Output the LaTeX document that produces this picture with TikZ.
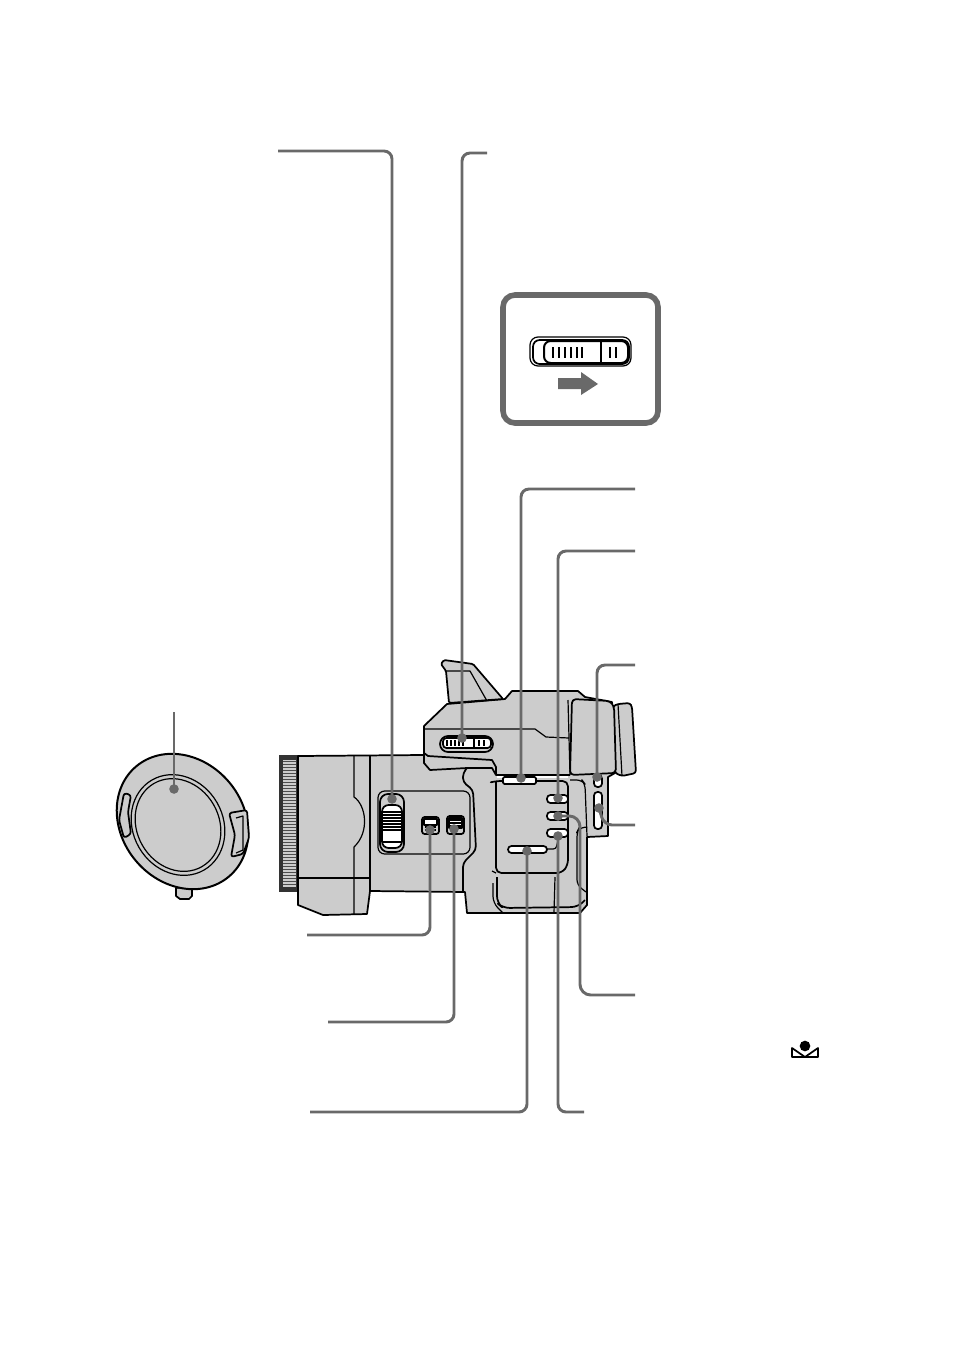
\documentclass[tikz,border=0pt]{standalone}
\usetikzlibrary{arrows.meta,positioning,calc}
\definecolor{bodygrey}{HTML}{CCCCCC}
\definecolor{leadgrey}{HTML}{696969}
\tikzset{
  outline/.style = {draw=black, line width=1.3pt, line join=round},
  shell/.style   = {outline, fill=bodygrey},
  detail/.style  = {draw=black, line width=0.9pt, line join=round},
  pill/.style    = {outline, fill=white, rounded corners=2.6pt},
  leader/.style  = {draw=leadgrey, line width=2.2pt, rounded corners=6pt},
  leaddot/.style = {circle, fill=leadgrey, inner sep=0pt, minimum size=7.2pt},
}
\begin{document}
\begin{tikzpicture}[x=0.75pt,y=-0.75pt]
  \useasboundingbox (0,0) rectangle (954,1345);
  % slide switch inset
  \draw[draw=leadgrey, fill=white, line width=4.2pt, rounded corners=9pt] (503,295) rectangle (658,423);
  \draw[detail, rounded corners=6pt] (530,337) rectangle (631,366);
  \draw[outline, rounded corners=5pt] (533,340) rectangle (629,364);
  \draw[outline, line width=1.5pt, rounded corners=5pt] (544,341) rectangle (628,363);
  \draw[outline] (601,341) -- (601,363);
  \foreach \tx in {553,559,565,571,577,582,610,616} \draw[detail] (\tx,347) -- (\tx,358);
  \fill[leadgrey] (558,378) -- (581,378) -- (581,372) -- (598,384) -- (581,395) -- (581,389) -- (558,389) -- cycle;
  % lens cap
  \draw[shell] (176,888) -- (176,896) -- (180,899) -- (189,899) -- (192,896) -- (192,886) -- cycle;
  \draw[shell, line width=1.5pt] (182.5,821.5) circle [x radius=72, y radius=61, rotate=-50];
  \draw[detail] (178,825) circle [x radius=52, y radius=45, rotate=-60];
  \draw[detail] (178,825) circle [x radius=48, y radius=41, rotate=-60];
  \draw[shell, rounded corners=2pt] (124,793) -- (131,795) -- (128,812) -- (131,834) -- (124,838) -- (119,820) -- cycle;
  \draw[shell, rounded corners=2pt] (229,813) -- (247,810) -- (249,838) -- (243,854) -- (231,857) -- (235,835) -- cycle;
  \draw[detail] (236,818) -- (243,816) -- (243,850) -- (236,853);
  % lens ring
  \fill[black!80] (279,755) rectangle (298,892);
  \fill[bodygrey] (283,760) rectangle (296,887);
  \foreach \ky in {761,764,...,886} \draw[black!70, line width=0.6pt] (283,\ky) -- (296,\ky);
  % camera body
  \draw[shell] (298,756) -- (424,755) -- (424,726) -- (447,704) -- (505,699) -- (512,691) -- (578,691) -- (585,697) -- (612,702) -- (615,773) -- (608,777) -- (608,836) -- (587,837) -- (587,905) -- (580,913) -- (467,913) -- (465,892) -- (370,891) -- (367,914) -- (323,915) -- (298,905) -- cycle;
  % hood and eyepiece
  \draw[shell, rounded corners=1pt] (449,703) -- (446,671) -- (441,664) -- (444,660) -- (473,664) -- (503,699) -- cycle;
  \draw[detail] (446,671) -- (470,671) -- (487,701);
  \draw[shell, rounded corners=2pt] (613,706) -- (618,704) -- (630,703) -- (632,707) -- (636,773) -- (622,776) -- (615,773) -- cycle;
  \draw[detail] (618,704) -- (622,776);
  \draw[detail] (568,700) -- (570,775);
  \draw[shell, rounded corners=3pt] (572,699) -- (610,701) -- (614,706) -- (616,773) -- (570,775) -- cycle;
  % body details
  \draw[detail] (354,756) -- (354,797) .. controls (366,805) and (370,832) .. (354,847) -- (354,914);
  \draw[detail] (298,878) -- (369,878);
  \draw[outline] (370,755) -- (370,891);
  \draw[detail] (425,729) -- (535,729) -- (546,737) -- (569,738);
  \draw[outline] (424,755) -- (424,763) -- (430,770) -- (467,768) -- (492,768) -- (496,775);
  \draw[outline] (424,753) -- (428,756) -- (492,760) -- (496,767) -- (496,775) -- (570,775);
  \draw[outline, rounded corners=3pt] (467,768) -- (463,773) -- (463,782) -- (473,790) -- (476,850) -- (463,863) -- (463,892);
  \draw[detail, rounded corners=5pt] (378,791) rectangle (470,854);
  \draw[outline, rounded corners=4pt] (492,782) -- (496,781) -- (568,781) -- (568,865) -- (562,873) -- (496,873) -- (496,781);
  \draw[detail] (492,871) -- (496,873);
  \draw[detail, rounded corners=4pt] (570,780) -- (582,780) -- (585,784) -- (587,836);
  \draw[detail, rounded corners=4pt] (587,827) -- (579,828) -- (577,832) -- (577,885) -- (586,892);
  \draw[outline, rounded corners=5pt] (497,877) -- (497,903) -- (503,908) -- (578,907) -- (585,900);
  \draw[detail, rounded corners=5pt] (493,883) -- (493,903) -- (503,913);
  \draw[detail] (555,877) -- (554,913);
  % buttons and switches
  \draw[pill, rounded corners=6pt, fill=bodygrey] (440,736) rectangle (493,752);
  \draw[pill] (443,738) rectangle (491,748);
  \draw[detail] (474,738) -- (474,748);
  \foreach \tx in {447,451,455,459,463,479,484} \draw[detail] (\tx,740) -- (\tx,746);
  \fill[white] (497,776) rectangle (568,778);
  \draw[pill, rounded corners=1pt] (503,777) -- (536,777) -- (536,784) -- (503,784) -- cycle;
  \draw[pill] (547,795) -- (568,795) -- (568,803) -- (547,803) -- cycle;
  \draw[pill] (547,812) -- (568,812) -- (568,820) -- (547,820) -- cycle;
  \draw[pill] (547,829) -- (568,829) -- (568,837) -- (547,837) -- cycle;
  \draw[pill] (508,846) rectangle (547,853);
  \draw[detail] (527,846) -- (527,853);
  \draw[detail, rounded corners=2pt] (547,849) -- (556,849) -- (559,836);
  \draw[pill] (594,775) rectangle (602,787);
  \draw[pill] (594,792) rectangle (602,829);
  % zoom lever panel
  \draw[pill, rounded corners=6pt, fill=bodygrey] (380,794) rectangle (404,852);
  \draw[pill, rounded corners=5pt] (382,805) rectangle (402,848);
  \foreach \sy in {812,815,...,832} \draw[detail] (383,\sy) -- (401,\sy);
  \draw[detail] (382,842) -- (402,842);
  \draw[outline, fill=bodygrey, rounded corners=2pt] (422,817) rectangle (439,834);
  \draw[outline, fill=white] (424,819) rectangle (437,825);
  \foreach \sy in {827,830} \draw[detail] (425,\sy) -- (436,\sy);
  \draw[outline, fill=bodygrey, rounded corners=2pt] (447,816) rectangle (464,834);
  \draw[outline, fill=white] (449,818) rectangle (462,828);
  \foreach \sy in {820,823,826} \draw[detail] (450,\sy) -- (461,\sy);
  % end of leaders
  \node[leaddot] (capdot) at (174,789) {};
  \node[leaddot] (zoomdot) at (392,799) {};
  \node[leaddot] (sliderdot) at (462,738) {};
  \node[leaddot] (lampdot) at (521,778) {};
  \node[leaddot] (btnadot) at (558,798) {};
  \node[leaddot] (btnbdot) at (558,816) {};
  \node[leaddot] (btncdot) at (558,836) {};
  \node[leaddot] (longdot) at (527,851) {};
  \node[leaddot] (smalldot) at (597,777) {};
  \node[leaddot] (rockerdot) at (599,808) {};
  \node[leaddot] (leftdot) at (430,830) {};
  \node[leaddot] (rightdot) at (454,829) {};
  \coordinate (capend) at (174,712);
  \coordinate (zoomend) at (278,151);
  \coordinate (sliderend) at (487,153);
  \coordinate (lampend) at (635,489);
  \coordinate (btnaend) at (635,551);
  \coordinate (smallend) at (635,665);
  \coordinate (rockerend) at (635,825);
  \coordinate (btnbend) at (635,995);
  \coordinate (btncend) at (584,1112);
  \coordinate (longend) at (310,1112);
  \coordinate (leftend) at (307,935);
  \coordinate (rightend) at (328,1022);
  \draw[leader, line width=1.5pt] (capend) -- (capdot.center);
  \draw[leader] (zoomend) -| (zoomdot.center);
  \draw[leader] (sliderend) -| (sliderdot.center);
  \draw[leader] (lampend) -| (lampdot.center);
  \draw[leader] (btnaend) -| (btnadot.center);
  \draw[leader] (smallend) -| (smalldot.center);
  \draw[leader] (rockerend) -- (604,825) -- (rockerdot.center);
  \draw[leader, rounded corners=8pt] (btnbend) -- (580,995) -- (580,816) -- (btnbdot.center);
  \draw[leader] (btncend) -| (btncdot.center);
  \draw[leader] (longend) -| (longdot.center);
  \draw[leader] (leftend) -| (leftdot.center);
  \draw[leader] (rightend) -| (rightdot.center);
  % icon
  \node[circle, fill=black, inner sep=0pt, minimum size=8pt] (iconhead) at (805,1046) {};
  \draw[outline] (805,1057) -- (792,1048) -- (792,1057) -- (818,1057) -- (818,1048) -- cycle;
\end{tikzpicture}
\end{document}
